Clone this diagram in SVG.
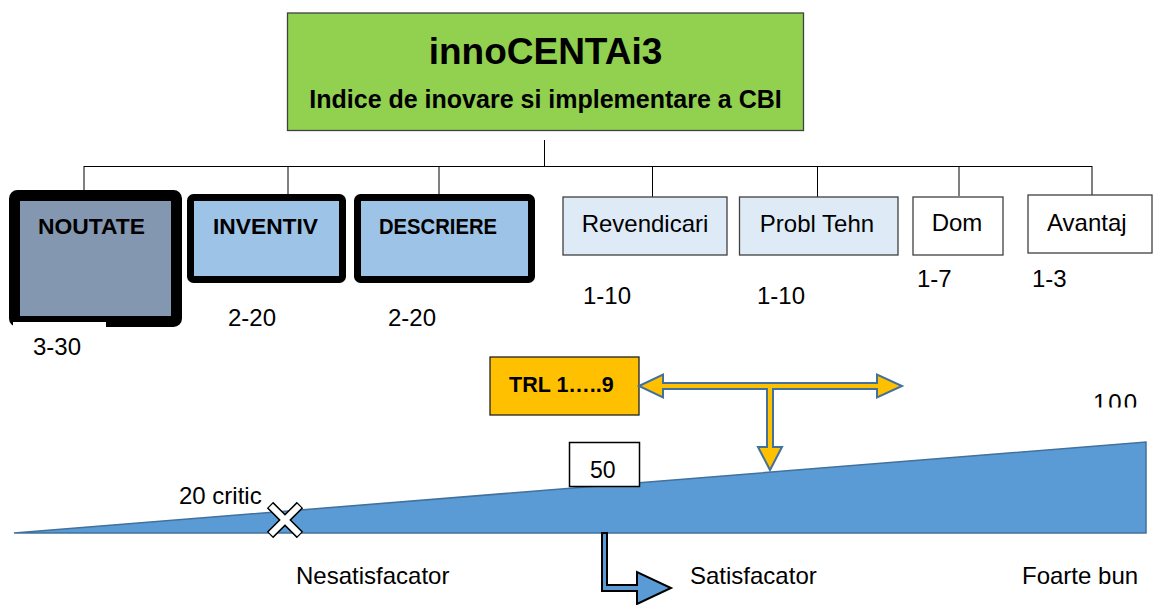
<svg xmlns="http://www.w3.org/2000/svg" width="1153" height="605" viewBox="0 0 1153 605">
<defs>
<style>
text{font-family:"Liberation Sans",Arial,sans-serif;fill:#000}
.b{font-weight:bold}
.r{font-size:24px}
.ln{stroke:#000;stroke-width:1;fill:none}
.thin{stroke:#404040;stroke-width:1.3}
.thick{stroke:#000;stroke-linejoin:round}
</style>
<clipPath id="c100"><rect x="1080" y="380" width="73" height="27.5"/></clipPath>
</defs>
<rect width="1153" height="605" fill="#fff"/>

<g id="connectors">
<line class="ln" x1="544.5" y1="140" x2="544.5" y2="166"/>
<line class="ln" x1="84" y1="166.5" x2="1092" y2="166.5"/>
<line class="ln" x1="84" y1="166" x2="84" y2="190"/>
<line class="ln" x1="288" y1="166" x2="288" y2="194"/>
<line class="ln" x1="439" y1="166" x2="439" y2="194"/>
<line class="ln" x1="652.5" y1="166" x2="652.5" y2="197"/>
<line class="ln" x1="817.5" y1="166" x2="817.5" y2="197"/>
<line class="ln" x1="959" y1="166" x2="959" y2="196"/>
<line class="ln" x1="1092" y1="166" x2="1092" y2="195"/>
</g>

<g id="root">
<rect x="287.5" y="13" width="516" height="117.5" fill="#92D050" class="thin"/>
<text class="b" x="545.5" y="64" font-size="37" text-anchor="middle">innoCENTAi3</text>
<text class="b" x="545.5" y="108" font-size="25" text-anchor="middle">Indice de inovare si implementare a CBI</text>
</g>

<g id="noutate">
<rect x="14.5" y="195.5" width="162" height="126" rx="3" fill="#8497B0" class="thick" stroke-width="11"/>
<text class="b" x="38" y="234" font-size="22.5" textLength="107" lengthAdjust="spacingAndGlyphs">NOUTATE</text>
<rect x="13" y="322" width="93" height="45" fill="#fff"/>
<text class="r" x="33" y="355">3-30</text>
</g>

<g id="inventiv">
<rect x="190.5" y="197.5" width="152" height="82" rx="3" fill="#9DC3E6" class="thick" stroke-width="7"/>
<text class="b" x="213" y="234" font-size="22.5" textLength="105" lengthAdjust="spacingAndGlyphs">INVENTIV</text>
<text class="r" x="228" y="326">2-20</text>
</g>

<g id="descriere">
<rect x="357.5" y="197.5" width="174" height="82" rx="3" fill="#9DC3E6" class="thick" stroke-width="7"/>
<text class="b" x="379" y="234" font-size="22.5" textLength="118" lengthAdjust="spacingAndGlyphs">DESCRIERE</text>
<text class="r" x="388" y="326">2-20</text>
</g>

<g id="revendicari">
<rect x="563" y="197" width="164" height="58" fill="#DEEBF7" class="thin"/>
<text class="r" x="645" y="232" text-anchor="middle">Revendicari</text>
<text class="r" x="583" y="304">1-10</text>
</g>

<g id="probltehn">
<rect x="739.5" y="197" width="158.5" height="58" fill="#DEEBF7" class="thin"/>
<text class="r" x="817" y="232" text-anchor="middle">Probl Tehn</text>
<text class="r" x="757" y="304">1-10</text>
</g>

<g id="dom">
<rect x="913" y="197" width="90" height="58" fill="#fff" class="thin"/>
<text class="r" x="957" y="231" text-anchor="middle">Dom</text>
<text class="r" x="917" y="287">1-7</text>
</g>

<g id="avantaj">
<rect x="1028" y="195" width="124" height="58" fill="#fff" class="thin"/>
<text class="r" x="1047" y="231">Avantaj</text>
<text class="r" x="1032" y="287">1-3</text>
</g>

<g id="scale">
<polygon points="14,533 1146,442 1146,533" fill="#5B9BD5" stroke="#41719C" stroke-width="1.5" stroke-linejoin="miter"/>
<text class="r" x="179" y="504">20 critic</text>
<text class="r" x="1093" y="411" letter-spacing="2" clip-path="url(#c100)">100</text>
</g>

<g id="critic-mark">
<path d="M270,505 L300,535 M300,505 L270,535" stroke="#000" stroke-width="9" fill="none"/>
<path d="M270.8,505.8 L299.2,534.2 M299.2,505.8 L270.8,534.2" stroke="#fff" stroke-width="6" fill="none"/>
</g>

<g id="val50">
<rect x="569.5" y="442.5" width="70" height="44" fill="#fff" stroke="#000" stroke-width="1.5"/>
<text x="590" y="478" font-size="23">50</text>
</g>

<g id="trl">
<rect x="490" y="357" width="149" height="58" fill="#FFC000" stroke="#222" stroke-width="1.3"/>
<text class="b" x="509" y="392" font-size="21.5">TRL 1…..9</text>
</g>

<g id="trl-arrow">
<polygon points="639,386 663,374.5 663,383 877,383 877,374.5 902,386 877,397.5 877,389 773,389 773,447 782,447 770,470 758,447 767,447 767,389 663,389 663,397.5" fill="#FFC000" stroke="#41719C" stroke-width="2" stroke-linejoin="miter"/>
</g>

<g id="bent-arrow">
<polygon points="602,533 607,533 607,585 637,585 637,572 671,588 637,604 637,591 602,591" fill="#5B9BD5" stroke="#000" stroke-width="2" stroke-linejoin="miter"/>
</g>

<g id="labels">
<text class="r" x="296" y="584">Nesatisfacator</text>
<text class="r" x="690" y="584">Satisfacator</text>
<text class="r" x="1022" y="584">Foarte bun</text>
</g>
</svg>
